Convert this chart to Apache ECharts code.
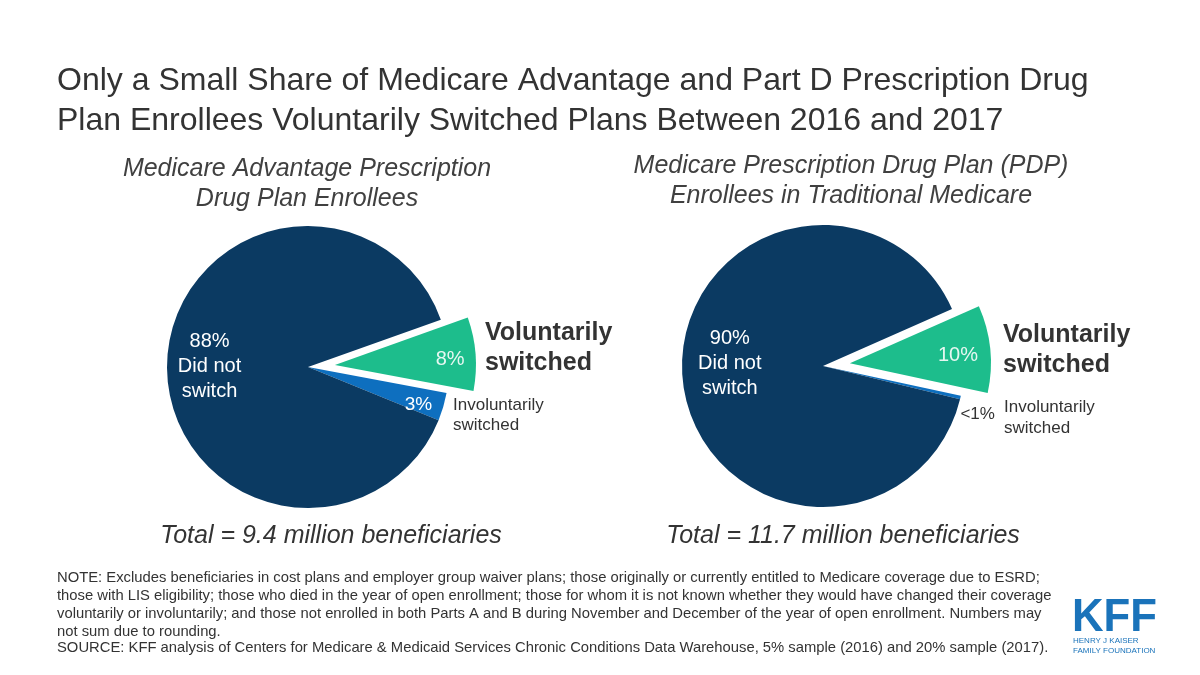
<!DOCTYPE html>
<html>
<head>
<meta charset="utf-8">
<script src="https://cdn.jsdelivr.net/npm/echarts@6/dist/echarts.min.js"></script>
<style>
html,body{margin:0;padding:0;background:#fff;}
#chart{width:1200px;height:675px;}
</style>
</head>
<body>
<div id="chart"></div>
<script>
// ---- Data ----
const categories = ['Voluntarily switched', 'Involuntarily switched', 'Did not switch'];
const maValues = [8.4, 3.2, 88.4];
const pdpValues = [10.0, 0.4, 89.6];
const maLabels = ['8%', '3%', '88%'];
const pdpLabels = ['10%', '<1%', '90%'];
const maTitle = 'Medicare Advantage Prescription\nDrug Plan Enrollees';
const pdpTitle = 'Medicare Prescription Drug Plan (PDP)\nEnrollees in Traditional Medicare';
const maTotal = 'Total = 9.4 million beneficiaries';
const pdpTotal = 'Total = 11.7 million beneficiaries';
const mainTitle = 'Only a Small Share of Medicare Advantage and Part D Prescription Drug\nPlan Enrollees Voluntarily Switched Plans Between 2016 and 2017';
const noteLines = [
  'NOTE: Excludes beneficiaries in cost plans and employer group waiver plans; those originally or currently entitled to Medicare coverage due to ESRD;',
  'those with LIS eligibility; those who died in the year of open enrollment; those for whom it is not known whether they would have changed their coverage',
  'voluntarily or involuntarily; and those not enrolled in both Parts A and B during November and December of the year of open enrollment. Numbers may',
  'not sum due to rounding.'
];
const sourceLine = 'SOURCE: KFF analysis of Centers for Medicare & Medicaid Services Chronic Conditions Data Warehouse, 5% sample (2016) and 20% sample (2017).';

// ---- Styles ----
const colors = ['#1DBD8C', '#0E6FBF', '#0B3A62'];
const FONT = '"Liberation Sans", Arial, sans-serif';
const TXT = '#333333';

function pieData(values, labels, labelCfg) {
  return values.map((v, i) => ({
    name: categories[i],
    value: v,
    selected: i === 0,
    itemStyle: { color: colors[i] },
    label: Object.assign({
      show: true,
      position: 'inside',
      formatter: i === 2 ? labels[i] + '\nDid not\nswitch' : labels[i],
      fontFamily: FONT,
      color: '#ffffff',
      fontSize: 20,
      lineHeight: 25
    }, labelCfg[i])
  }));
}

const chart = echarts.init(document.getElementById('chart'), null, { renderer: 'canvas' });

const baseSeries = {
  type: 'pie',
  radius: 141,
  clockwise: true,
  selectedMode: 'single',
  selectedOffset: 27,
  avoidLabelOverlap: false,
  animation: false,
  emphasis: { disabled: true },
  labelLine: { show: false },
  itemStyle: { borderWidth: 0 }
};

const option = {
  backgroundColor: '#ffffff',
  animation: false,
  series: [
    Object.assign({}, baseSeries, {
      center: [308, 367],
      startAngle: 19.6,
      data: pieData(maValues, maLabels, [
        { padding: [0, 0, 0, 84], fontSize: 20, color: '#E6F7F1' },
        { offset: [40, 17], fontSize: 19 },
        { offset: [-25, 1] }
      ])
    }),
    Object.assign({}, baseSeries, {
      center: [823, 366],
      startAngle: 23.8,
      data: pieData(pdpValues, pdpLabels, [
        { padding: [2, 0, 0, 70], fontSize: 20, color: '#E6F7F1' },
        { offset: [83, 32], fontSize: 17, color: TXT },
        { offset: [-20, -9] }
      ])
    })
  ],
  graphic: [
    { type: 'text', left: 57, top: 61, style: { text: mainTitle, font: '32px ' + FONT, fill: TXT, lineHeight: 40 } },
    { type: 'text', x: 307, y: 184, style: { text: maTitle, font: 'italic 25px ' + FONT, fill: '#404040', lineHeight: 30, align: 'center', verticalAlign: 'middle' } },
    { type: 'text', x: 851, y: 181, style: { text: pdpTitle, font: 'italic 25px ' + FONT, fill: '#404040', lineHeight: 30, align: 'center', verticalAlign: 'middle' } },
    { type: 'text', x: 485, y: 348, style: { text: 'Voluntarily\nswitched', font: 'bold 25px ' + FONT, fill: TXT, lineHeight: 30, verticalAlign: 'middle' } },
    { type: 'text', x: 453, y: 415, style: { text: 'Involuntarily\nswitched', font: '17px ' + FONT, fill: TXT, lineHeight: 20, verticalAlign: 'middle' } },
    { type: 'text', x: 1003, y: 350, style: { text: 'Voluntarily\nswitched', font: 'bold 25px ' + FONT, fill: TXT, lineHeight: 30, verticalAlign: 'middle' } },
    { type: 'text', x: 1004, y: 418, style: { text: 'Involuntarily\nswitched', font: '17px ' + FONT, fill: TXT, lineHeight: 21, verticalAlign: 'middle' } },
    { type: 'text', x: 331, y: 536, style: { text: maTotal, font: 'italic 25px ' + FONT, fill: TXT, align: 'center', verticalAlign: 'middle' } },
    { type: 'text', x: 843, y: 536, style: { text: pdpTotal, font: 'italic 25px ' + FONT, fill: TXT, align: 'center', verticalAlign: 'middle' } },
    { type: 'text', left: 57, top: 569, style: { text: noteLines.join('\n'), font: '14.8px ' + FONT, fill: TXT, lineHeight: 18 } },
    { type: 'text', left: 57, top: 640, style: { text: sourceLine, font: '14.8px ' + FONT, fill: TXT } },
    { type: 'text', x: 1072, y: 595, scaleX: 0.95, style: { text: 'KFF', font: 'bold 46px ' + FONT, fill: '#1A73BA' } },
    { type: 'text', x: 1073, y: 636, style: { text: 'HENRY J KAISER\nFAMILY FOUNDATION', font: '8px ' + FONT, fill: '#1A73BA', lineHeight: 10 } }
  ]
};
chart.setOption(option);
</script>
</body>
</html>
